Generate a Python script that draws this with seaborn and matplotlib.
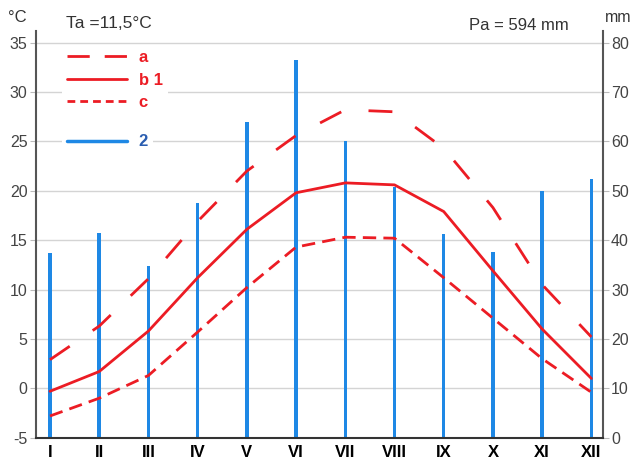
import pandas as pd
import matplotlib.pyplot as plt
import seaborn as sns
from matplotlib.lines import Line2D

# 데이터 (월별)
months = ['I', 'II', 'III', 'IV', 'V', 'VI', 'VII', 'VIII', 'IX', 'X', 'XI', 'XII']
temp_a = [2.9, 6.3, 11.1, 16.9, 22.0, 25.6, 28.2, 28.0, 24.3, 18.3, 10.5, 5.2]
temp_b = [-0.3, 1.7, 5.8, 11.2, 16.1, 19.8, 20.8, 20.6, 17.9, 11.9, 6.0, 1.0]
temp_c = [-2.8, -1.0, 1.3, 5.7, 10.2, 14.3, 15.3, 15.2, 11.2, 7.1, 3.0, -0.4]
precip = [37.4, 41.4, 34.8, 47.6, 63.9, 76.4, 60.1, 50.8, 41.2, 37.6, 49.9, 52.4]

RED = '#ec1c24'
BLUE = '#1e88e5'
GREY = '#444444'
DASH_A = (8.6, 10)
DASH_C = (4.8, 2.6)

sns.set_style('white')
plt.rcParams['font.family'] = ['Liberation Sans', 'DejaVu Sans']
plt.rcParams['axes.unicode_minus'] = False

idx = list(range(len(months)))
df_t = pd.DataFrame({'m': idx * 3,
                     'temp': temp_a + temp_b + temp_c,
                     'series': ['a'] * 12 + ['b'] * 12 + ['c'] * 12})
df_p = pd.DataFrame({'m': idx, 'mm': precip})

fig = plt.figure(figsize=(6.34, 4.66), dpi=100)
ax = fig.add_axes([0.0568, 0.0607, 0.8938, 0.8728])
ax2 = ax.twinx()
ax.set_zorder(2)
ax2.set_zorder(1)
ax.patch.set_visible(False)

# 강수량 막대 (오른쪽 축)
sns.barplot(data=df_p, x='m', y='mm', ax=ax2, native_scale=True, width=0.07,
            color=BLUE, saturation=1, errorbar=None, linewidth=0)
ax2.set_ylim(0, 82.37)
ax2.set_yticks(range(0, 81, 10))
ax2.yaxis.grid(True, color='#d4d4d4', lw=1)
ax2.xaxis.grid(False)
ax2.set_axisbelow(True)
ax2.set_xlabel('')
ax2.set_ylabel('')

# 기온 선 (왼쪽 축)
sns.lineplot(data=df_t, x='m', y='temp', style='series', ax=ax, color=RED, lw=2,
             dashes={'a': DASH_A, 'b': '', 'c': DASH_C}, legend=False)
ax.set_ylim(-5, 36.18)
ax.set_yticks(range(-5, 36, 5))
ax.set_xlim(-0.284, 11.23)
ax.set_xticks(idx)
ax.set_xticklabels(months, fontsize=12, fontweight='bold', color='black')
ax.set_xlabel('')
ax.set_ylabel('')

ax.tick_params(axis='y', labelsize=11.5, labelcolor=GREY, length=4, color='#bbbbbb', pad=2)
ax.tick_params(axis='x', length=0, pad=5)
ax2.tick_params(axis='y', labelsize=11.5, labelcolor=GREY, length=4, color='#bbbbbb', pad=2)

for s in ['top', 'right']:
    ax.spines[s].set_visible(False)
for s in ['top', 'left', 'bottom']:
    ax2.spines[s].set_visible(False)
ax.spines['left'].set_color('#555555')
ax.spines['left'].set_linewidth(1.5)
ax.spines['bottom'].set_color('#333333')
ax.spines['bottom'].set_linewidth(1.5)
ax2.spines['right'].set_color('#555555')
ax2.spines['right'].set_linewidth(1.5)

# 범례 (a, b 1, c)
leg_kw = dict(loc='upper left', frameon=True, facecolor='white', edgecolor='none',
              framealpha=1, fancybox=False, borderaxespad=0, borderpad=0.3,
              handlelength=3.6, handletextpad=0.7, labelspacing=0.45,
              prop={'size': 12, 'weight': 'bold'})
h1 = [Line2D([], [], color=RED, lw=2, dashes=(8, 5.4)),
      Line2D([], [], color=RED, lw=2),
      Line2D([], [], color=RED, lw=2, dashes=(2.8, 1.8))]
leg1 = ax.legend(h1, ['a', 'b 1', 'c'], bbox_to_anchor=(0.046, 0.965), **leg_kw)
for txt in leg1.get_texts():
    txt.set_color(RED)
ax.add_artist(leg1)

# 범례 (2)
leg2 = ax.legend([Line2D([], [], color=BLUE, lw=2.5)], ['2'],
                 bbox_to_anchor=(0.046, 0.758), **leg_kw)
leg2.get_texts()[0].set_color('#2a5db0')

fig.text(8 / 634, 1 - 18 / 466, '°C', fontsize=12, color='#333333', va='center', ha='left')
fig.text(66 / 634, 1 - 23 / 466, 'Ta =11,5°C', fontsize=12.5, color='#333333', va='center', ha='left')
fig.text(569 / 634, 1 - 26 / 466, 'Pa = 594 mm', fontsize=12, color='#333333', va='center', ha='right')
fig.text(605 / 634, 1 - 18 / 466, 'mm', fontsize=11.5, color='#333333', va='center', ha='left')

plt.savefig('out.png', dpi=100)
